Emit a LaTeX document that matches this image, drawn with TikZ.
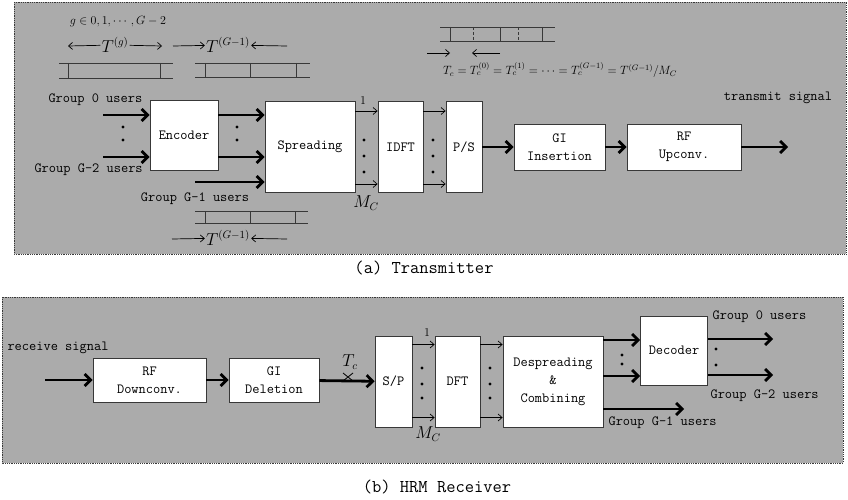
\documentclass[tikz,border=0pt]{standalone}
\usepackage{amsmath,amssymb}
\usetikzlibrary{arrows.meta}
\definecolor{panelgray}{gray}{0.67}
\definecolor{framegray}{gray}{0.22}
\newdimen\unitsize
\setlength{\unitsize}{1pt}

\begin{document}
\begin{tikzpicture}[x=\unitsize,y=-\unitsize,font=\ttfamily\fontsize{14}{18}\selectfont]
\tikzset{blk/.style={draw=framegray,fill=white,line width=0.8pt,inner sep=0pt,align=center}}%
\tikzset{bigarrow/.style={line width=2.8pt,-{Straight Barb[length=6pt,width=12pt]}}}%
\tikzset{thinarrow/.style={line width=0.7pt,-{Straight Barb[length=4pt,width=7pt]}}}%
\tikzset{dimarrow/.style={line width=0.7pt,-{Straight Barb[length=4pt,width=7pt]}}}%
\tikzset{slot/.style={framegray,line width=0.8pt}}%
\tikzset{bigmath/.style={font=\fontsize{16}{18}\selectfont,inner sep=1pt}}%
\tikzset{dot/.style={circle,fill=black,inner sep=0pt,minimum size=3.4pt}}%
\useasboundingbox (0,0) rectangle (848,500);
% panels
\fill[panelgray] (14,2) rectangle (846,254);
\draw[framegray,densely dotted,line width=0.8pt] (14,2) rectangle (846,254);
\fill[panelgray] (2,297) rectangle (843,463);
\draw[framegray,densely dotted,line width=0.8pt] (2,297) rectangle (843,463);
\node[font=\ttfamily\fontsize{18}{20}\selectfont] (capa) at (424,268) {(a) Transmitter};
\node[font=\ttfamily\fontsize{18}{20}\selectfont] (capb) at (437,487) {(b) HRM Receiver};

% ---- transmitter: frame sketches
\node[font=\fontsize{13}{15}\selectfont] (gset) at (118,22) {$g\in 0,1,\cdots,G-2$};
\node[bigmath] (tg) at (115,45) {$T^{(g)}$};
\coordinate (tgl) at (68,46);
\coordinate (tgr) at (162,46);
\draw[dimarrow] (tg) -- (tgl);
\draw[dimarrow] (tg) -- (tgr);
\draw[slot] (59,63) -- (173,63) (59,78) -- (173,78);
\foreach \x in {68,160} \draw[slot] (\x,63) -- (\x,78);

\node[bigmath] (tga) at (228,45) {$T^{(G-1)}$};
\coordinate (tgal) at (173,46);
\coordinate (tgar) at (287,46);
\draw[dimarrow] (tgal) -- (tga);
\draw[dimarrow] (tgar) -- (tga);
\draw[slot] (195,63) -- (310,63) (195,77) -- (310,77);
\foreach \x in {205,296} \draw[slot] (\x,63) -- (\x,77);
\draw[slot,line width=0.5pt] (250,63) -- (250,77);

\draw[slot] (440,27) -- (555,27) (440,41) -- (555,41);
\foreach \x in {450,500,542} \draw[slot] (\x,27) -- (\x,41);
\foreach \x in {473,518} \draw[slot,line width=0.5pt,densely dashed] (\x,27) -- (\x,41);
\coordinate (chl) at (427,53);
\coordinate (chm) at (450,53);
\coordinate (chr) at (500,53);
\coordinate (chn) at (472,53);
\draw[dimarrow] (chl) -- (chm);
\draw[dimarrow] (chr) -- (chn);
\node[font=\fontsize{12}{14}\selectfont] (tceq) at (560,70) {$T_c=T_c^{(0)}=T_c^{(1)}=\cdots=T_c^{(G-1)}=T^{(G-1)}/M_C$};

% ---- transmitter: blocks
\node[blk,minimum width=68,minimum height=70] (enc) at (184,135) {Encoder};
\node[blk,minimum width=90,minimum height=91] (spr) at (310,147) {Spreading};
\node[blk,minimum width=45,minimum height=91] (idft) at (400.5,147) {IDFT};
\node[blk,minimum width=36,minimum height=91] (ps) at (464,147) {P/S};
\node[blk,minimum width=91,minimum height=46] (gi) at (559.5,147) {GI\\Insertion};
\node[blk,minimum width=114,minimum height=46] (rfu) at (684,147) {RF\\Upconv.};

\node[anchor=west] (lg0) at (45,100) {Group 0 users};
\node[anchor=west] (lg2) at (31,170) {Group G-2 users};
\node (lg1) at (195,199) {Group G-1 users};
\node (txs) at (778,98) {transmit signal};

\coordinate (g0) at (103,115);
\coordinate (g2) at (103,157);
\coordinate (g1) at (195,182);
\coordinate (txo) at (788,147);
\draw[bigarrow] (g0) -- (g0 -| enc.west);
\draw[bigarrow] (g2) -- (g2 -| enc.west);
\draw[bigarrow] (enc.east |- g0) -- (spr.west |- g0);
\draw[bigarrow] (enc.east |- g2) -- (spr.west |- g2);
\draw[bigarrow] (g1) -- (g1 -| spr.west);
\foreach \y in {127,140} {
  \node[dot] at (123,\y) {};
  \node[dot] at (237,\y) {};
}
\draw[thinarrow] ([yshift=36]spr.east) -- ([yshift=36]idft.west);
\draw[thinarrow] ([yshift=-37]spr.east) -- ([yshift=-37]idft.west);
\draw[thinarrow] ([yshift=36]idft.east) -- ([yshift=36]ps.west);
\draw[thinarrow] ([yshift=-37]idft.east) -- ([yshift=-37]ps.west);
\foreach \y in {140,156,172} {
  \node[dot] at (364,\y) {};
  \node[dot] at (433,\y) {};
}
\node[font=\fontsize{12}{14}\selectfont] (one1) at (363,101) {$1$};
\node[bigmath] (mc1) at (366,203) {$M_C$};
\draw[bigarrow] (ps) -- (gi);
\draw[bigarrow] (gi) -- (rfu);
\draw[bigarrow] (rfu) -- (txo);

% G-1 frame
\draw[slot] (195,211) -- (308,211) (195,223) -- (308,223);
\foreach \x in {205,250,295} \draw[slot] (\x,211) -- (\x,223);
\node[bigmath] (tgb) at (228,238) {$T^{(G-1)}$};
\coordinate (tgbl) at (172,239);
\coordinate (tgbr) at (287,239);
\draw[dimarrow] (tgbl) -- (tgb);
\draw[dimarrow] (tgbr) -- (tgb);

% ---- receiver
\node[blk,minimum width=113,minimum height=44] (rfd) at (149.5,380) {RF\\Downconv.};
\node[blk,minimum width=90,minimum height=44] (gid) at (274,380) {GI\\Deletion};
\node[blk,minimum width=37,minimum height=91] (sp) at (393.5,381.5) {S/P};
\node[blk,minimum width=45,minimum height=91] (dft) at (457.5,381.5) {DFT};
\node[blk,minimum width=100,minimum height=91] (desp) at (553,381.5) {Despreading\\\&\\Combining};
\node[blk,minimum width=67,minimum height=69] (dec) at (674,350.5) {Decoder};

\node[anchor=west] (rxs) at (4,348) {receive signal};
\node[anchor=west] (rg0) at (709,317) {Group 0 users};
\node[anchor=west] (rg2) at (707,396) {Group G-2 users};
\node[anchor=west] (rg1) at (605,423) {Group G-1 users};

\coordinate (rxi) at (45,380);
\draw[bigarrow] (rxi) -- (rfd);
\draw[bigarrow] (rfd) -- (gid);
\draw[bigarrow] (gid) -- (sp);
\draw[line width=0.8pt] (343,373) -- (353,381) (343,381) -- (353,373);
\node[bigmath] (tc) at (350,362) {$T_c$};
\draw[thinarrow] ([yshift=37]sp.east) -- ([yshift=37]dft.west);
\draw[thinarrow] ([yshift=-36]sp.east) -- ([yshift=-36]dft.west);
\draw[thinarrow] ([yshift=37]dft.east) -- ([yshift=37]desp.west);
\draw[thinarrow] ([yshift=-36]dft.east) -- ([yshift=-36]desp.west);
\foreach \y in {368,384,398} {
  \node[dot] at (422,\y) {};
  \node[dot] at (490,\y) {};
}
\node[font=\fontsize{12}{14}\selectfont] (one2) at (427,333) {$1$};
\node[bigmath] (mc2) at (428,434) {$M_C$};

\coordinate (d0) at (773,339);
\coordinate (d2) at (773,375);
\coordinate (d1) at (684,409);
\draw[bigarrow] (desp.east |- 0,340) -- (dec.west |- 0,340);
\draw[bigarrow] (desp.east |- 0,376) -- (dec.west |- 0,376);
\draw[bigarrow] (dec.east |- d0) -- (d0);
\draw[bigarrow] (dec.east |- d2) -- (d2);
\draw[bigarrow] (desp.east |- d1) -- (d1);
\foreach \y in {355,364} \node[dot] at (622,\y) {};
\foreach \y in {349,365} \node[dot] at (716,\y) {};
\end{tikzpicture}
\end{document}
